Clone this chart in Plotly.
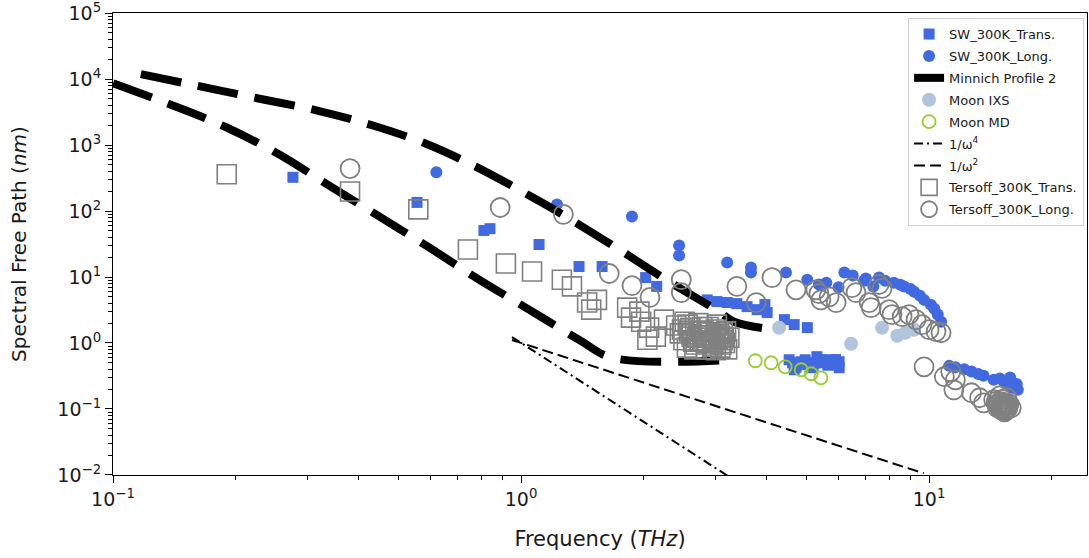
import plotly.graph_objects as go

# ---- SW potential, 300 K ----
sw_trans_f = [0.276, 0.556, 0.811, 0.839, 1.107, 1.387, 1.58, 2.02, 2.15,
              2.86, 3.02, 3.20, 3.38, 3.58, 3.79, 4.01, 3.96, 4.42, 4.67, 5.03,
              4.54, 4.75, 4.97, 5.14, 5.31, 5.53, 5.75, 6.02, 6.02, 4.67,
              4.63, 4.85, 5.05, 5.25, 5.45, 5.65, 5.9, 5.95, 4.72, 5.2]
sw_trans_mfp = [324, 135, 50.7, 54, 31.1, 14.4, 14.4, 9.8, 7.2,
                4.5, 4.24, 4.1, 3.95, 3.56, 3.2, 2.89, 3.82, 2.26, 1.90, 1.71,
                0.557, 0.468, 0.557, 0.422, 0.62, 0.502, 0.557, 0.52, 0.422, 0.393,
                0.50, 0.52, 0.47, 0.50, 0.56, 0.46, 0.56, 0.47, 0.43, 0.44]

sw_long_f = [0.62, 1.225, 1.87, 2.44, 2.44, 3.2, 3.66, 3.66, 4.46, 5.03,
             5.37, 6.2, 6.93, 7.54, 8.2, 8.68, 9.19, 9.72, 10.1, 10.5, 10.7,
             5.6, 6.5, 7.0, 7.8, 8.5, 9.0, 9.5, 10.3, 6.0, 7.3,
             11.2, 12.7, 13.6, 14.4, 15.3, 16.2, 16.5,
             11.6, 12.2, 13.2, 14.9, 15.8, 16.4, 16.0]
sw_long_mfp = [386, 126, 82.8, 30, 21.2, 16.6, 13.9, 11.7, 11.7, 9.1,
               7.7, 11.7, 8.8, 9.8, 8.2, 7.2, 6.0, 4.5, 3.8, 2.7, 2.1,
               8.2, 10.5, 9.5, 8.8, 7.6, 6.6, 5.2, 3.3, 7.0, 7.2,
               0.45, 0.37, 0.32, 0.277, 0.25, 0.233, 0.195,
               0.43, 0.40, 0.34, 0.29, 0.30, 0.24, 0.21]

# ---- Minnich profile 2 (two branches) ----
minnich_up_f = [0.117, 0.1625, 0.2254, 0.3148, 0.4315, 0.589, 0.798, 1.058,
                1.239, 1.738, 2.305, 3.056, 3.327, 4.17]
minnich_up_mfp = [11860, 7800, 5120, 3360, 1990, 1026, 428, 166,
                  95, 26.1, 8.53, 2.99, 2.10, 1.59]
minnich_lo_f = [0.1, 0.1396, 0.1893, 0.255, 0.338, 0.449, 0.595, 0.789,
                1.046, 1.387, 1.671, 3.29]
minnich_lo_mfp = [8650, 4010, 1858, 723, 244, 82.8, 28.0, 9.14,
                  3.21, 1.12, 0.598, 0.557]

# ---- Moon et al. ----
moon_ixs_f = [4.29, 6.44, 7.67, 8.36, 8.74, 9.19]
moon_ixs_mfp = [1.7, 0.975, 1.7, 1.29, 1.43, 1.59]
moon_md_f = [3.75, 4.10, 4.44, 4.86, 5.14, 5.43]
moon_md_mfp = [0.538, 0.502, 0.436, 0.393, 0.342, 0.297]

# ---- power-law guides ----
w4_f = [0.95, 3.2]
w4_mfp = [1.23, 0.0098]
w2_f = [0.95, 9.7]
w2_mfp = [1.11, 0.0106]

# ---- Tersoff potential, 300 K ----
ters_trans_f = [0.190, 0.381, 0.56, 0.741, 0.918, 1.064, 1.259, 1.333, 1.452,
                1.535, 1.486, 1.82, 1.95, 1.86, 1.97, 2.06, 2.14, 2.04, 2.24,
                2.40, 2.45, 2.50, 2.55, 2.60, 2.62, 2.68, 2.72, 2.75, 2.80,
                2.84, 2.88, 2.92, 2.96, 3.00, 3.04, 3.08, 3.12, 3.16, 3.20,
                3.24, 2.52, 2.66, 3.00,
                2.58, 2.70, 2.78, 2.86, 2.90, 2.98, 3.06, 3.14, 3.10, 2.64,
                2.94, 2.82, 3.02, 2.56, 3.18, 2.48,
                2.74, 2.88, 3.00, 2.62, 3.12, 2.80, 2.95, 3.08]
ters_trans_mfp = [360, 198, 106, 26.1, 16.0, 12.1, 9.1, 7.2, 4.1,
                  4.5, 3.2, 3.44, 2.99, 2.42, 2.1, 1.71, 1.25, 1.12, 2.26,
                  1.84, 1.40, 1.10, 0.85, 1.70, 1.25, 0.95, 2.00, 1.50, 1.10,
                  0.80, 1.75, 1.30, 0.95, 1.60, 1.15, 0.85, 1.45, 1.00, 0.80,
                  1.20, 2.10, 0.80, 0.78,
                  1.50, 1.20, 1.75, 1.00, 1.45, 1.15, 1.35, 1.20, 0.95, 1.05,
                  0.88, 1.30, 1.90, 1.90, 1.50, 1.60,
                  1.05, 1.20, 1.30, 1.35, 1.10, 1.55, 1.05, 1.25]

ters_long_f = [0.381, 0.889, 1.27, 1.645, 1.87, 2.07, 2.47, 2.47, 3.38, 3.77,
               4.12, 4.72, 5.28, 5.37, 5.43, 5.69, 5.92, 6.47, 6.62, 7.13,
               7.21, 7.54, 7.67, 7.98, 8.11, 8.59, 8.93, 9.29, 9.61, 10.0,
               10.4, 10.7, 9.72, 10.9, 11.3, 11.6, 11.5, 12.7, 13.3, 13.6,
               14.4, 14.7, 14.9, 15.1, 15.3, 15.5, 15.7, 15.3, 14.9, 15.5, 15.9,
               14.6, 14.8, 15.0, 15.2, 15.4, 15.6, 15.0, 15.3, 14.7, 15.6,
               15.1, 15.4, 15.2, 15.0, 15.4, 15.2]
ters_long_mfp = [440, 113, 89, 11.3, 7.4, 4.9, 9.1, 5.8, 7.2, 4.1,
                 9.8, 6.4, 6.4, 5.6, 4.5, 5.0, 4.1, 6.9, 5.8, 4.1,
                 3.44, 7.7, 6.7, 3.2, 2.69, 2.51, 2.69, 2.26, 1.90, 1.59,
                 1.49, 1.43, 0.436, 0.308, 0.366, 0.277, 0.195, 0.176, 0.148, 0.124,
                 0.138, 0.120, 0.104, 0.128, 0.112, 0.097, 0.120, 0.0906, 0.158, 0.148, 0.104,
                 0.130, 0.115, 0.125, 0.108, 0.118, 0.105, 0.098, 0.094, 0.105, 0.114,
                 0.140, 0.100, 0.112, 0.110, 0.108, 0.120]

# ---- axis ticks ----
y_tick_vals = [1e-2, 1e-1, 1e0, 1e1, 1e2, 1e3, 1e4, 1e5]
y_tick_text = ["10<sup>\u22122</sup>", "10<sup>\u22121</sup>", "10<sup>0</sup>",
               "10<sup>1</sup>", "10<sup>2</sup>", "10<sup>3</sup>",
               "10<sup>4</sup>", "10<sup>5</sup>"]
x_tick_vals = [1e-1, 1e0, 1e1]
x_tick_text = ["10<sup>\u22121</sup>", "10<sup>0</sup>", "10<sup>1</sup>"]

BLUE = "#4169E1"
GRAY = "#808080"
FONT = "DejaVu Sans"

fig = go.Figure()

fig.add_trace(go.Scatter(x=sw_trans_f, y=sw_trans_mfp, mode="markers",
                         name="SW_300K_Trans.", legendgroup="sw_t",
                         marker=dict(symbol="square", size=11, color=BLUE)))
fig.add_trace(go.Scatter(x=sw_long_f, y=sw_long_mfp, mode="markers",
                         name="SW_300K_Long.", legendgroup="sw_l",
                         marker=dict(symbol="circle", size=12, color=BLUE)))
fig.add_trace(go.Scatter(x=minnich_up_f, y=minnich_up_mfp, mode="lines",
                         name="Minnich Profile 2", legendgroup="minnich",
                         line_shape="spline",
                         line=dict(color="black", width=8, dash="41px,17px")))
fig.add_trace(go.Scatter(x=minnich_lo_f, y=minnich_lo_mfp, mode="lines",
                         showlegend=False, legendgroup="minnich", line_shape="spline",
                         line=dict(color="black", width=8, dash="41px,17px")))
fig.add_trace(go.Scatter(x=moon_ixs_f, y=moon_ixs_mfp, mode="markers",
                         name="Moon IXS", legendgroup="ixs",
                         marker=dict(symbol="circle", size=14, color="#B0C4DE")))
fig.add_trace(go.Scatter(x=moon_md_f, y=moon_md_mfp, mode="markers",
                         name="Moon MD", legendgroup="md",
                         marker=dict(symbol="circle-open", size=13, color="#9ACD32",
                                     line=dict(width=1.8, color="#9ACD32"))))
fig.add_trace(go.Scatter(x=w4_f, y=w4_mfp, mode="lines",
                         name="1/\u03c9<sup>4</sup>", legendgroup="w4",
                         line=dict(color="black", width=2, dash="9px,4px,2px,4px")))
fig.add_trace(go.Scatter(x=w2_f, y=w2_mfp, mode="lines",
                         name="1/\u03c9<sup>2</sup>", legendgroup="w2",
                         line=dict(color="black", width=2, dash="11px,5px")))
fig.add_trace(go.Scatter(x=ters_trans_f, y=ters_trans_mfp, mode="markers",
                         name="Tersoff_300K_Trans.", legendgroup="ter_t",
                         marker=dict(symbol="square-open", size=19, color=GRAY,
                                     line=dict(width=1.6, color=GRAY))))
fig.add_trace(go.Scatter(x=ters_long_f, y=ters_long_mfp, mode="markers",
                         name="Tersoff_300K_Long.", legendgroup="ter_l",
                         marker=dict(symbol="circle-open", size=19, color=GRAY,
                                     line=dict(width=1.8, color=GRAY))))

minor_y = [m * 10.0 ** e for e in range(-2, 5) for m in range(2, 10)]
minor_x = [m * 10.0 ** e for e in range(-1, 2) for m in range(2, 10)]

fig.update_layout(
    width=1089, height=558,
    margin=dict(l=113, r=2, t=13, b=83),
    paper_bgcolor="white", plot_bgcolor="white",
    font=dict(family=FONT, color="#1a1a1a"),
    showlegend=True,
    legend=dict(x=0.997, y=0.989, xanchor="right", yanchor="top",
                bgcolor="white", bordercolor="#d0d0d0", borderwidth=1,
                font=dict(family=FONT, size=13, color="#1a1a1a"),
                tracegroupgap=2, itemwidth=30),
)

fig.update_xaxes(
    type="log", range=[-1, 1.387], automargin=False,
    title=dict(text="Frequency (<i>THz</i>)", font=dict(size=21), standoff=22),
    tickvals=x_tick_vals, ticktext=x_tick_text,
    tickfont=dict(size=19), ticklabeloverflow="allow",
    ticks="outside", ticklen=7, tickwidth=1, tickcolor="black",
    minor=dict(ticks="outside", ticklen=4, tickwidth=1, tickcolor="black",
               tickvals=minor_x, showgrid=False),
    showgrid=False, zeroline=False,
    showline=True, linecolor="black", linewidth=1.2, mirror=True,
)
fig.update_yaxes(
    type="log", range=[-2.0005, 5.0005], automargin=False,
    title=dict(text="Spectral Free Path (<i>nm</i>)", font=dict(size=20), standoff=25),
    tickvals=y_tick_vals, ticktext=y_tick_text,
    tickfont=dict(size=19), ticklabeloverflow="allow",
    ticks="outside", ticklen=7, tickwidth=1, tickcolor="black",
    minor=dict(ticks="outside", ticklen=4, tickwidth=1, tickcolor="black",
               tickvals=minor_y, showgrid=False),
    showgrid=False, zeroline=False,
    showline=True, linecolor="black", linewidth=1.2, mirror=True,
)

fig.write_html("out.html")
